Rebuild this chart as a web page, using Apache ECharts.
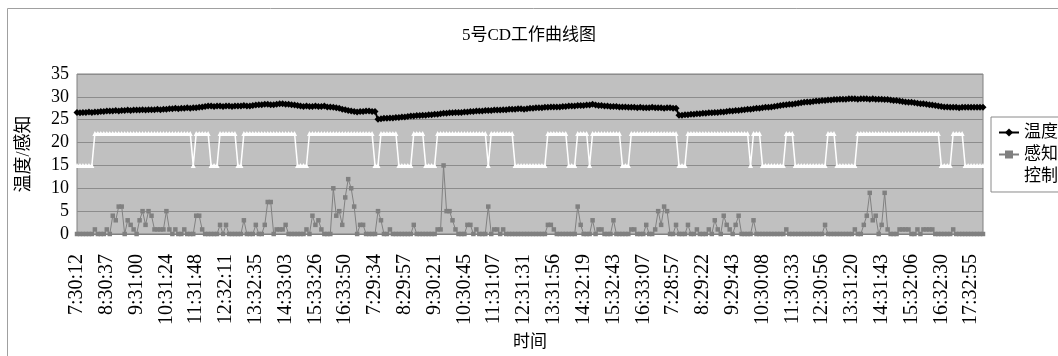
<!DOCTYPE html>
<html>
<head>
<meta charset="utf-8">
<script src="https://cdn.jsdelivr.net/npm/echarts@6/dist/echarts.min.js"></script>
<style>
  html, body { margin: 0; padding: 0; background: #ffffff; }
  #chart { width: 1058px; height: 356px; }
</style>
</head>
<body>
<div id="chart"></div>
<script>
// Hourly time stamps shown on the category axis (one per 10 samples)
const hourTimes = [
  '7:30:12', '8:30:37', '9:31:00', '10:31:24', '11:31:48', '12:32:11', '13:32:35', '14:33:03', '15:33:26', '16:33:50',
  '7:29:34', '8:29:57', '9:30:21', '10:30:45', '11:31:07', '12:31:31', '13:31:56', '14:32:19', '15:32:43', '16:33:07',
  '7:28:57', '8:29:22', '9:29:43', '10:30:08', '11:30:33', '12:30:56', '13:31:20', '14:31:43', '15:32:06', '16:32:30',
  '17:32:55'
];

// 温度 — temperature readings, one row per hour
const temperature = [
  26.6, 26.5, 26.6, 26.6, 26.7, 26.6, 26.7, 26.7, 26.8, 26.8,
  26.9, 26.9, 26.9, 27.0, 26.9, 27.0, 27.0, 27.1, 27.0, 27.1,
  27.1, 27.1, 27.2, 27.1, 27.2, 27.2, 27.2, 27.3, 27.2, 27.3,
  27.3, 27.4, 27.4, 27.5, 27.4, 27.5, 27.5, 27.6, 27.5, 27.6,
  27.6, 27.7, 27.8, 27.9, 28.0, 28.0, 27.9, 28.0, 28.0, 27.9,
  28.0, 28.0, 27.9, 28.0, 28.0, 28.0, 28.1, 28.0, 28.0, 28.1,
  28.2, 28.3, 28.3, 28.4, 28.4, 28.3, 28.3, 28.4, 28.5, 28.5,
  28.4, 28.4, 28.3, 28.2, 28.1, 28.0, 27.9, 28.0, 27.9, 27.9,
  28.0, 27.9, 27.9, 28.0, 27.8, 27.8, 27.7, 27.6, 27.5, 27.3,
  27.2, 27.0, 26.9, 26.8, 26.7, 26.8, 26.8, 26.9, 26.9, 26.8,
  26.8, 25.1, 25.2, 25.3, 25.3, 25.4, 25.4, 25.5, 25.5, 25.6,
  25.6, 25.7, 25.8, 25.8, 25.9, 25.9, 26.0, 26.0, 26.1, 26.1,
  26.2, 26.2, 26.3, 26.4, 26.4, 26.5, 26.5, 26.6, 26.6, 26.6,
  26.7, 26.7, 26.8, 26.8, 26.9, 26.9, 26.9, 27.0, 27.0, 27.0,
  27.1, 27.1, 27.1, 27.2, 27.2, 27.3, 27.3, 27.3, 27.4, 27.4,
  27.3, 27.4, 27.5, 27.5, 27.6, 27.6, 27.6, 27.7, 27.7, 27.8,
  27.8, 27.8, 27.8, 27.9, 27.9, 28.0, 28.0, 28.0, 28.1, 28.1,
  28.1, 28.2, 28.2, 28.4, 28.2, 28.1, 28.1, 28.0, 28.0, 27.9,
  27.9, 27.9, 27.8, 27.8, 27.8, 27.7, 27.7, 27.7, 27.6, 27.7,
  27.6, 27.6, 27.6, 27.7, 27.6, 27.6, 27.6, 27.5, 27.6, 27.6,
  27.5, 27.5, 26.0, 26.0, 26.1, 26.1, 26.2, 26.2, 26.3, 26.3,
  26.4, 26.4, 26.5, 26.5, 26.6, 26.6, 26.7, 26.7, 26.8, 26.9,
  26.9, 27.0, 27.0, 27.1, 27.2, 27.3, 27.3, 27.4, 27.5, 27.5,
  27.6, 27.7, 27.7, 27.8, 27.9, 28.0, 28.1, 28.2, 28.3, 28.4,
  28.4, 28.5, 28.6, 28.7, 28.8, 28.9, 28.9, 29.0, 29.1, 29.1,
  29.2, 29.2, 29.3, 29.3, 29.4, 29.4, 29.5, 29.5, 29.5, 29.6,
  29.6, 29.6, 29.5, 29.6, 29.6, 29.6, 29.5, 29.6, 29.5, 29.5,
  29.5, 29.4, 29.4, 29.3, 29.2, 29.2, 29.1, 29.0, 28.9, 28.8,
  28.8, 28.7, 28.6, 28.5, 28.5, 28.4, 28.3, 28.2, 28.1, 28.0,
  27.9, 27.8, 27.8, 27.7, 27.7, 27.7, 27.6, 27.7, 27.7, 27.7,
  27.7, 27.7, 27.7, 27.7, 27.7
];

// 感知 — sensed occupancy level
const sense = [
  0, 0, 0, 0, 0, 0, 1, 0, 0, 0,
  1, 0, 4, 3, 6, 6, 0, 3, 2, 1,
  0, 3, 5, 2, 5, 4, 1, 1, 1, 1,
  5, 1, 0, 1, 0, 0, 1, 0, 0, 0,
  4, 4, 1, 0, 0, 0, 0, 0, 2, 0,
  2, 0, 0, 0, 0, 0, 3, 0, 0, 0,
  2, 0, 0, 2, 7, 7, 0, 1, 1, 1,
  2, 0, 0, 0, 0, 0, 0, 1, 0, 4,
  2, 3, 1, 0, 0, 0, 10, 4, 5, 2,
  8, 12, 10, 6, 0, 2, 2, 0, 0, 0,
  0, 5, 3, 0, 0, 1, 0, 0, 0, 0,
  0, 0, 0, 2, 0, 0, 0, 0, 0, 0,
  0, 1, 1, 15, 5, 5, 3, 1, 0, 0,
  0, 2, 2, 0, 1, 0, 0, 0, 6, 0,
  1, 1, 0, 1, 0, 0, 0, 0, 0, 0,
  0, 0, 0, 0, 0, 0, 0, 0, 2, 2,
  1, 0, 0, 0, 0, 0, 0, 0, 6, 2,
  0, 0, 0, 3, 0, 1, 1, 0, 0, 0,
  3, 0, 0, 0, 0, 0, 1, 1, 0, 0,
  0, 2, 0, 0, 1, 5, 2, 6, 5, 0,
  0, 2, 0, 0, 0, 2, 0, 0, 1, 0,
  0, 0, 1, 0, 3, 1, 0, 4, 2, 1,
  0, 2, 4, 0, 0, 0, 0, 3, 0, 0,
  0, 0, 0, 0, 0, 0, 0, 0, 1, 0,
  0, 0, 0, 0, 0, 0, 0, 0, 0, 0,
  0, 2, 0, 0, 0, 0, 0, 0, 0, 0,
  0, 1, 0, 0, 2, 4, 9, 3, 4, 0,
  2, 9, 1, 0, 0, 0, 1, 1, 1, 1,
  0, 0, 1, 0, 1, 1, 1, 1, 0, 0,
  0, 0, 0, 0, 1, 0, 0, 0, 0, 0,
  0, 0, 0, 0, 0
];

// 控制 — control set-point, switching between 15 and 22
const control = [
  15, 15, 15, 15, 15, 15, 22, 22, 22, 22,
  22, 22, 22, 22, 22, 22, 22, 22, 22, 22,
  22, 22, 22, 22, 22, 22, 22, 22, 22, 22,
  22, 22, 22, 22, 22, 22, 22, 22, 22, 15,
  22, 22, 22, 22, 22, 15, 15, 15, 22, 22,
  22, 22, 22, 22, 15, 15, 22, 22, 22, 22,
  22, 22, 22, 22, 22, 22, 22, 22, 22, 22,
  22, 22, 22, 22, 15, 15, 15, 15, 22, 22,
  22, 22, 22, 22, 22, 22, 22, 22, 22, 22,
  22, 22, 22, 22, 22, 22, 22, 22, 22, 22,
  15, 15, 22, 22, 22, 22, 22, 22, 15, 15,
  15, 15, 15, 22, 22, 22, 22, 15, 15, 15,
  15, 22, 22, 22, 22, 22, 22, 22, 22, 22,
  22, 22, 22, 22, 22, 22, 22, 22, 15, 22,
  22, 22, 22, 22, 22, 22, 22, 15, 15, 15,
  15, 15, 15, 15, 15, 15, 15, 15, 22, 22,
  22, 22, 22, 22, 22, 15, 15, 15, 22, 22,
  22, 22, 15, 22, 22, 22, 22, 22, 22, 22,
  22, 22, 22, 15, 15, 15, 22, 22, 22, 22,
  22, 22, 22, 22, 22, 22, 22, 22, 22, 22,
  22, 22, 15, 15, 15, 22, 22, 22, 22, 22,
  22, 22, 22, 22, 22, 22, 22, 22, 22, 22,
  22, 22, 22, 22, 22, 22, 15, 22, 22, 22,
  15, 15, 15, 15, 15, 15, 15, 15, 22, 22,
  22, 15, 15, 15, 15, 15, 15, 15, 15, 15,
  15, 15, 22, 22, 22, 15, 15, 15, 15, 15,
  15, 15, 22, 22, 22, 22, 22, 22, 22, 22,
  22, 22, 22, 22, 22, 22, 22, 22, 22, 22,
  22, 22, 22, 22, 22, 22, 22, 22, 22, 22,
  15, 15, 15, 15, 22, 22, 22, 22, 15, 15,
  15, 15, 15, 15, 15
];

const seriesNames = ['温度', '感知', '控制'];
const SAMPLES_PER_LABEL = 10;

// category axis: a time stamp on every 10th sample, blank otherwise
const categories = temperature.map((_, i) =>
  i % SAMPLES_PER_LABEL === 0 ? hourTimes[i / SAMPLES_PER_LABEL] : '');

const serif = '"Liberation Serif", "Times New Roman", "Noto Sans CJK SC", serif';

const chart = echarts.init(document.getElementById('chart'), null, { renderer: 'canvas' });

chart.setOption({
  animation: false,
  backgroundColor: '#ffffff',
  title: {
    text: '5号CD工作曲线图',
    left: 'center',
    top: 22,
    textStyle: { fontFamily: serif, fontSize: 17, fontWeight: 'normal', color: '#000' }
  },
  graphic: [{
    type: 'rect',
    shape: { x: 7.5, y: 8.5, width: 1200, height: 500 },
    style: { fill: 'none', stroke: '#a0a0a0', lineWidth: 1 },
    silent: true,
    z: -10
  }],
  legend: {
    orient: 'vertical',
    left: 991,
    top: 117,
    padding: [7, 6, 7, 7],
    itemGap: 5,
    itemWidth: 20,
    itemHeight: 10,
    borderColor: '#8a8a8a',
    borderWidth: 1,
    backgroundColor: '#ffffff',
    textStyle: { fontFamily: serif, fontSize: 17, color: '#000' },
    data: seriesNames
  },
  grid: {
    left: 77,
    right: 75,
    top: 74,
    bottom: 122,
    show: true,
    backgroundColor: '#c0c0c0',
    borderColor: '#808080',
    borderWidth: 1
  },
  xAxis: {
    type: 'category',
    data: categories,
    boundaryGap: false,
    name: '时间',
    nameLocation: 'middle',
    nameGap: 100,
    nameTextStyle: { fontFamily: serif, fontSize: 17, color: '#000' },
    axisLine: { show: true, lineStyle: { color: '#808080' } },
    axisTick: { show: false },
    axisLabel: {
      interval: SAMPLES_PER_LABEL - 1,
      rotate: 90,
      margin: 20,
      fontFamily: serif,
      fontSize: 20,
      color: '#000'
    },
    splitLine: { show: false }
  },
  yAxis: {
    type: 'value',
    min: 0,
    max: 35,
    interval: 5,
    name: '温度/感知',
    nameLocation: 'middle',
    nameRotate: 90,
    nameGap: 44,
    nameTextStyle: { fontFamily: serif, fontSize: 18, color: '#000' },
    axisLine: { show: false },
    axisTick: { show: false },
    axisLabel: { margin: 8, fontFamily: serif, fontSize: 18, color: '#000' },
    splitLine: { show: true, lineStyle: { color: '#8c8c8c', width: 1 } }
  },
  series: [
    {
      name: seriesNames[0],
      type: 'line',
      data: temperature,
      symbol: 'diamond',
      symbolSize: 7,
      showAllSymbol: true,
      lineStyle: { color: '#000000', width: 2 },
      itemStyle: { color: '#000000' },
      z: 4
    },
    {
      name: seriesNames[1],
      type: 'line',
      data: sense,
      symbol: 'rect',
      symbolSize: 4.5,
      showAllSymbol: true,
      lineStyle: { color: '#808080', width: 1 },
      itemStyle: { color: '#808080' },
      z: 3
    },
    {
      name: seriesNames[2],
      type: 'line',
      data: control,
      symbol: 'triangle',
      symbolSize: 5,
      showAllSymbol: true,
      lineStyle: { color: '#ffffff', width: 1.5 },
      itemStyle: { color: '#ffffff' },
      z: 2
    }
  ]
});
</script>
</body>
</html>
